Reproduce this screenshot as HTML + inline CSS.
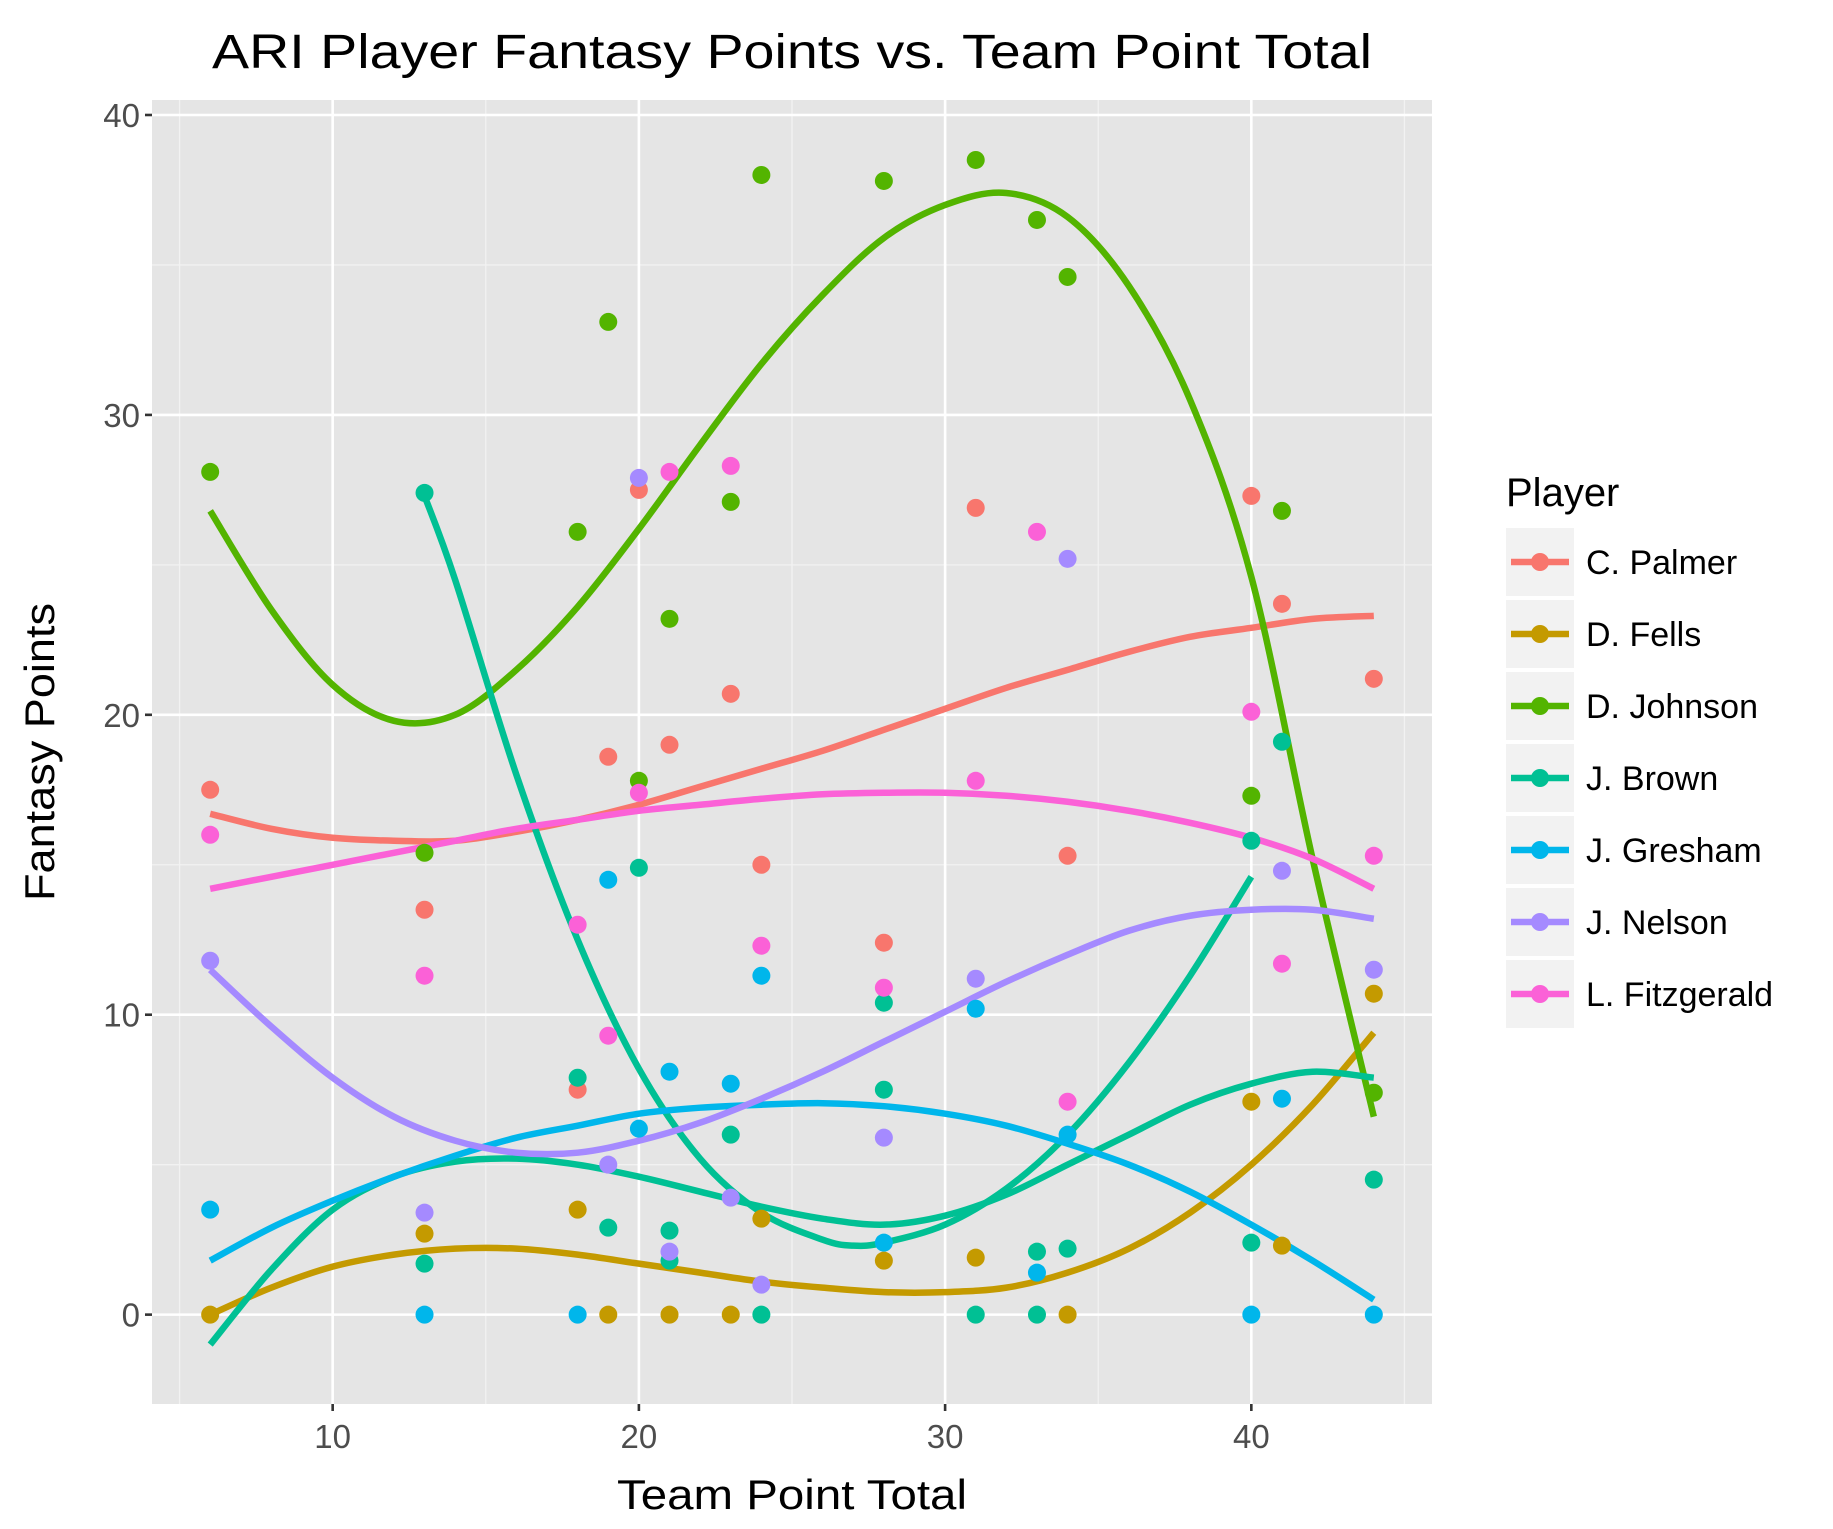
<!DOCTYPE html>
<html><head><meta charset="utf-8"><style>
html,body{margin:0;padding:0;background:#fff}
svg{display:block;font-family:"Liberation Sans",Arial,sans-serif}
</style></head><body>
<svg id="chart" width="1833" height="1529" viewBox="0 0 1833 1529" xmlns="http://www.w3.org/2000/svg">
<rect x="0" y="0" width="1833" height="1529" fill="#fff"/>
<text x="792" y="68" font-size="48" text-anchor="middle" textLength="1160" lengthAdjust="spacingAndGlyphs" fill="#000">ARI Player Fantasy Points vs. Team Point Total</text>
<rect x="152" y="100" width="1280" height="1304" fill="#E5E5E5"/>
<g id="grid"></g>
<g id="axes"></g>
<g id="lines"></g>
<g id="points"></g>
<text x="792" y="1509" font-size="42" text-anchor="middle" textLength="350" lengthAdjust="spacingAndGlyphs" fill="#000">Team Point Total</text>
<text transform="translate(54,752) rotate(-90)" font-size="42" text-anchor="middle" textLength="298" lengthAdjust="spacingAndGlyphs" fill="#000">Fantasy Points</text>
<g id="legend">
<text x="1506" y="506" font-size="40" fill="#000">Player</text>
</g>
</svg>
<script>
const players = ["C. Palmer","D. Fells","D. Johnson","J. Brown","J. Gresham","J. Nelson","L. Fitzgerald"];
const colors = ["#F8766D","#C49A00","#53B400","#00C094","#00B6EB","#A58AFF","#FB61D7"];
const xTicks = [10,20,30,40];
const yTicks = [0,10,20,30,40];
const palmerX = [6,13,18,19,20,21,23,24,28,31,34,40,41,44];
const palmerY = [17.5,13.5,7.5,18.6,27.5,19,20.7,15,12.4,26.9,15.3,27.3,23.7,21.2];
const fellsX = [6,13,18,19,21,23,24,28,31,34,40,41,44];
const fellsY = [0,2.7,3.5,0,0,0,3.2,1.8,1.9,0,7.1,2.3,10.7];
const johnsonX = [6,13,18,19,20,21,23,24,28,31,33,34,40,41,44];
const johnsonY = [28.1,15.4,26.1,33.1,17.8,23.2,27.1,38,37.8,38.5,36.5,34.6,17.3,26.8,7.4];
const brownX = [13,13,18,19,20,21,21,23,24,28,28,31,33,33,34,40,40,41,44];
const brownY = [27.4,1.7,7.9,2.9,14.9,2.8,1.8,6,0,10.4,7.5,0,0,2.1,2.2,2.4,15.8,19.1,4.5];
const greshamX = [6,13,18,19,20,21,23,24,28,31,33,34,40,41,44];
const greshamY = [3.5,0,0,14.5,6.2,8.1,7.7,11.3,2.4,10.2,1.4,6,0,7.2,0];
const nelsonX = [6,13,19,20,21,23,24,28,31,34,41,44];
const nelsonY = [11.8,3.4,5,27.9,2.1,3.9,1,5.9,11.2,25.2,14.8,11.5];
const fitzX = [6,13,18,19,20,21,23,24,28,31,33,34,40,41,44];
const fitzY = [16,11.3,13,9.3,17.4,28.1,28.3,12.3,10.9,17.8,26.1,7.1,20.1,11.7,15.3];
const smoothX = [6,8,10,12,14,16,18,20,22,24,26,28,30,32,34,36,38,40,42,44];
const palmerFit = [16.7,16.2,15.9,15.8,15.8,16.1,16.5,17.0,17.6,18.2,18.8,19.5,20.2,20.9,21.5,22.1,22.6,22.9,23.2,23.3];
const fellsFit = [0,0.9,1.6,2.0,2.2,2.2,2.0,1.7,1.4,1.1,0.9,0.75,0.75,0.9,1.4,2.2,3.4,5.0,7.0,9.4];
const johnsonFit = [26.8,23.5,21.0,19.8,20.0,21.5,23.6,26.2,29.0,31.7,34.0,35.9,37.0,37.4,36.6,34.3,30.5,24.6,15.2,6.6];
const brownFitB = [-1.0,1.5,3.5,4.6,5.1,5.2,5.0,4.6,4.1,3.6,3.2,3.0,3.3,4.0,5.0,6.0,7.0,7.7,8.1,7.9];
const greshamFit = [1.8,2.9,3.8,4.6,5.3,5.9,6.3,6.7,6.9,7.0,7.05,6.95,6.7,6.3,5.7,5.0,4.1,3.0,1.8,0.5];
const nelsonFit = [11.5,9.6,7.9,6.6,5.8,5.4,5.4,5.8,6.4,7.2,8.1,9.1,10.1,11.1,12.0,12.8,13.3,13.5,13.5,13.2];
const fitzFit = [14.2,14.6,15.0,15.4,15.8,16.2,16.5,16.8,17.0,17.2,17.35,17.4,17.4,17.3,17.1,16.8,16.4,15.9,15.2,14.2];
const brownAX = [13,14,16,18,20,22,24,26,27,28,30,32,34,36,38,40];
const brownFitA = [27.3,24.5,18.0,12.5,8.2,5.2,3.4,2.5,2.3,2.4,3.0,4.2,6.0,8.4,11.3,14.6];

const NS="http://www.w3.org/2000/svg";
const PL=152, PR=1432, PT=100, PB=1404;
const X0=4.1, X1=45.9, Y0=-2.98, Y1=40.5;
function sx(v){return PL+(v-X0)/(X1-X0)*(PR-PL);}
function sy(v){return PB-(v-Y0)/(Y1-Y0)*(PB-PT);}
function mk(tag,attrs,parent){const e=document.createElementNS(NS,tag);for(const k in attrs)e.setAttribute(k,attrs[k]);parent.appendChild(e);return e;}
const grid=document.getElementById('grid'), axes=document.getElementById('axes');
for(let v=5; v<=45; v+=10){const l=mk('line',{x1:sx(v),x2:sx(v),y1:PT,y2:PB,stroke:'#F2F2F2','stroke-width':1.3},grid);

}
for(let v=5; v<=35; v+=10){const l=mk('line',{x1:PL,x2:PR,y1:sy(v),y2:sy(v),stroke:'#F2F2F2','stroke-width':1.3},grid);

}
xTicks.forEach(v=>{const l=mk('line',{x1:sx(v),x2:sx(v),y1:PT,y2:PB,stroke:'#fff','stroke-width':2.6},grid);


const t=mk('line',{x1:sx(v),x2:sx(v),y1:PB,y2:PB+7,stroke:'#333','stroke-width':2.6},axes);


const tx=mk('text',{x:sx(v),y:PB+44,'font-size':33,'text-anchor':'middle',fill:'#4D4D4D'},axes);tx.textContent=v;

});
yTicks.forEach(v=>{const l=mk('line',{x1:PL,x2:PR,y1:sy(v),y2:sy(v),stroke:'#fff','stroke-width':2.6},grid);


const t=mk('line',{x1:PL-7,x2:PL,y1:sy(v),y2:sy(v),stroke:'#333','stroke-width':2.6},axes);


const tx=mk('text',{x:PL-12,y:sy(v)+12,'font-size':33,'text-anchor':'end',fill:'#4D4D4D'},axes);tx.textContent=v;

});
function pathFor(xs,ys){const p=xs.map((x,i)=>[sx(x),sy(ys[i])]);let d='M'+p[0][0]+','+p[0][1];
for(let i=0;i<p.length-1;i++){const a=p[Math.max(0,i-1)],b=p[i],c=p[i+1],e=p[Math.min(p.length-1,i+2)];
d+=' C'+(b[0]+(c[0]-a[0])/6)+','+(b[1]+(c[1]-a[1])/6)+' '+(c[0]-(e[0]-b[0])/6)+','+(c[1]-(e[1]-b[1])/6)+' '+c[0]+','+c[1];}return d;}
const lines=document.getElementById('lines'), pts=document.getElementById('points');
const fits=[[smoothX,palmerFit,0],[smoothX,fellsFit,1],[smoothX,johnsonFit,2],[smoothX,brownFitB,3],[brownAX,brownFitA,3],[smoothX,greshamFit,4],[smoothX,nelsonFit,5],[smoothX,fitzFit,6]];
const pointSets=[[palmerX,palmerY],[fellsX,fellsY],[johnsonX,johnsonY],[brownX,brownY],[greshamX,greshamY],[nelsonX,nelsonY],[fitzX,fitzY]];
pointSets.forEach((s,k)=>{s[0].forEach((x,i)=>{const c=mk('circle',{cx:sx(x),cy:sy(s[1][i]),r:9,fill:colors[k]},pts);

});});
fits.forEach(f=>{const p=mk('path',{d:pathFor(f[0],f[1]),fill:'none',stroke:colors[f[2]],'stroke-width':6.5},lines);

});
const lg=document.getElementById('legend');
players.forEach((n,i)=>{const cy=562+i*72;
const b=mk('rect',{x:1506,y:cy-34,width:68,height:68,fill:'#F2F2F2'},lg);


mk('line',{x1:1511,x2:1569,y1:cy,y2:cy,stroke:colors[i],'stroke-width':6.5},lg);
mk('circle',{cx:1540,cy:cy,r:9,fill:colors[i]},lg);
const t=mk('text',{x:1586,y:cy+12,'font-size':34,fill:'#000'},lg);t.textContent=n;

});
</script>
</body></html>
